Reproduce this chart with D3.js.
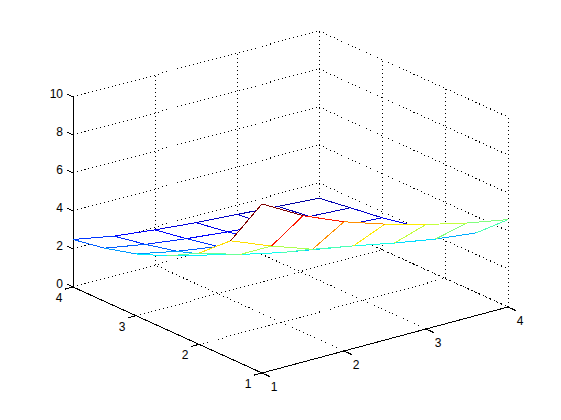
<!DOCTYPE html>
<html>
<head>
<meta charset="utf-8">
<script src="https://cdnjs.cloudflare.com/ajax/libs/d3/7.8.5/d3.min.js"></script>
<style>
  html, body { margin: 0; padding: 0; background: #fff; }
  svg { display: block; }
  text { font-family: "Liberation Sans", Arial, sans-serif; font-size: 12px; fill: #000; }
</style>
</head>
<body>
<div id="chart"></div>
<script>
var svgWidth = 561;
var svgHeight = 420;

// mesh samples
var xValues = [1, 1.5, 2, 2.5, 3, 3.5, 4];
var yValues = [1, 1.5, 2, 2.5, 3, 3.5, 4];

// one row per y value
var zRow1 = [8.9, 7.7, 6.8, 6.1, 5.5, 5.0, 4.6];
var zRow2 = [6.2, 5.35, 4.6, 4.2, 3.77, 3.4, 3.15];
var zRow3 = [4.8, 4.15, 3.67, 3.29, 2.97, 2.7, 2.48];
var zRow4 = [3.9, 3.37, 2.98, 2.67, 2.41, 2.19, 2.02];
var zRow5 = [3.25, 2.81, 2.48, 2.23, 2.0, 1.83, 1.68];
var zRow6 = [2.8, 2.42, 2.14, 1.92, 1.73, 1.57, 1.45];
var zRow7 = [2.5, 2.1, 1.85, 1.65, 1.5, 1.35, 1.2];
var zRows = [zRow1, zRow2, zRow3, zRow4, zRow5, zRow6, zRow7];

var xTicks = [1, 2, 3, 4];
var yTicks = [1, 2, 3, 4];
var zTicks = [0, 2, 4, 6, 8, 10];

// oblique projection, one scale per screen contribution
var sxFromX = d3.scaleLinear().domain([1, 4]).range([262, 508]);
var sxFromY = d3.scaleLinear().domain([1, 4]).range([0, -189]);
var syFromX = d3.scaleLinear().domain([1, 4]).range([373, 307]);
var syFromY = d3.scaleLinear().domain([1, 4]).range([0, -86]);
var syFromZ = d3.scaleLinear().domain([0, 10]).range([0, -190]);

function project(x, y, z) {
  return [sxFromX(x) + sxFromY(y), syFromX(x) + syFromY(y) + syFromZ(z)];
}

// jet colormap over the z range of the surface
var zMin = d3.min(zRows, r => d3.min(r));
var zMax = d3.max(zRows, r => d3.max(r));
var jetStops = ["#00008f", "#0000ff", "#00ffff", "#ffff00", "#ff0000", "#800000"];
var jet = d3.scaleLinear()
  .domain([0, 0.117, 0.367, 0.617, 0.867, 1].map(t => zMin + t * (zMax - zMin)))
  .range(jetStops)
  .interpolate(d3.interpolateRgb);

var svg = d3.select("#chart")
  .append("svg")
  .attr("width", svgWidth)
  .attr("height", svgHeight);

var gridGroup = svg.append("g")
  .attr("stroke", "#000")
  .attr("stroke-dasharray", "1 3")
  .attr("shape-rendering", "crispEdges");

function gridLine(a, b) {
  gridGroup.append("line")
    .attr("x1", a[0]).attr("y1", a[1])
    .attr("x2", b[0]).attr("y2", b[1]);
}

// floor and back wall lines
xTicks.forEach(function(x) {
  gridLine(project(x, 1, 0), project(x, 4, 0));
  gridLine(project(x, 4, 0), project(x, 4, 10));
});
yTicks.forEach(function(y) {
  gridLine(project(1, y, 0), project(4, y, 0));
  gridLine(project(4, y, 0), project(4, y, 10));
});
zTicks.forEach(function(z) {
  gridLine(project(1, 4, z), project(4, 4, z));
  gridLine(project(4, 4, z), project(4, 1, z));
});

var axisGroup = svg.append("g")
  .attr("stroke", "#000")
  .attr("shape-rendering", "crispEdges");

function axisLine(a, b) {
  axisGroup.append("line")
    .attr("x1", a[0]).attr("y1", a[1])
    .attr("x2", b[0]).attr("y2", b[1]);
}

axisLine(project(1, 1, 0), project(4, 1, 0));
axisLine(project(1, 1, 0), project(1, 4, 0));
axisLine(project(1, 4, 0), project(1, 4, 10));

// ticks run along the other floor direction
xTicks.forEach(function(x) {
  axisLine(project(x, 1, 0), project(x, 0.87, 0));
});
yTicks.forEach(function(y) {
  axisLine(project(1, y, 0), project(0.9, y, 0));
});
zTicks.forEach(function(z) {
  axisLine(project(1, 4, z), project(1, 4.1, z));
});

// tick labels
svg.append("g").selectAll("text")
  .data(xTicks)
  .enter()
  .append("text")
  .attr("x", d => project(d, 1, 0)[0] + 12)
  .attr("y", d => project(d, 1, 0)[1] + 18)
  .attr("text-anchor", "middle")
  .text(d => d);

svg.append("g").selectAll("text")
  .data(yTicks)
  .enter()
  .append("text")
  .attr("x", d => project(1, d, 0)[0] - 14)
  .attr("y", d => project(1, d, 0)[1] + 15)
  .attr("text-anchor", "middle")
  .text(d => d);

svg.append("g").selectAll("text")
  .data(zTicks)
  .enter()
  .append("text")
  .attr("x", 63)
  .attr("y", d => project(1, 4, d)[1] + 1)
  .attr("text-anchor", "end")
  .text(d => d);

// surface: white faces painted from the far corner forward, hiding what is behind
var meshGroup = svg.append("g")
  .attr("shape-rendering", "crispEdges");

var lineGen = d3.line();

for (var j = yValues.length - 2; j >= 0; j--) {
  for (var i = xValues.length - 2; i >= 0; i--) {
    var p00 = project(xValues[i], yValues[j], zRows[j][i]);
    var p10 = project(xValues[i + 1], yValues[j], zRows[j][i + 1]);
    var p11 = project(xValues[i + 1], yValues[j + 1], zRows[j + 1][i + 1]);
    var p01 = project(xValues[i], yValues[j + 1], zRows[j + 1][i]);

    meshGroup.append("path")
      .attr("d", lineGen([p00, p10, p11, p01]) + "Z")
      .attr("fill", "#fff")
      .attr("stroke", "none");

    // each edge takes the colour of its first vertex
    var edges = [
      [p01, p11, zRows[j + 1][i]],
      [p10, p11, zRows[j][i + 1]],
      [p00, p10, zRows[j][i]],
      [p00, p01, zRows[j][i]]
    ];
    edges.forEach(function(e) {
      meshGroup.append("path")
        .attr("d", lineGen([e[0], e[1]]))
        .attr("fill", "none")
        .attr("stroke", jet(e[2]))
        .attr("stroke-width", 1);
    });
  }
}
</script>
</body>
</html>
